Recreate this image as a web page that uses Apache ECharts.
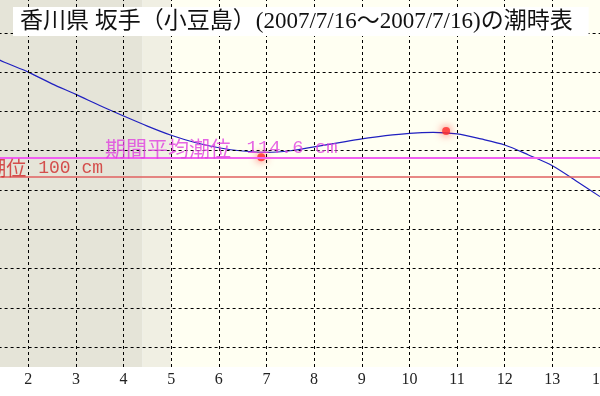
<!DOCTYPE html>
<html><head><meta charset="utf-8">
<script src="https://cdn.jsdelivr.net/npm/echarts@6/dist/echarts.min.js"></script>
<style>html,body{margin:0;padding:0;background:#fff}#c{width:600px;height:396px}</style>
</head><body><div id="c"></div>
<script>
// ---- data ----
const titleText = '香川県 坂手（小豆島）(2007/7/16～2007/7/16)の潮時表';
const hourTicks = [1,2,3,4,5,6,7,8,9,10,11,12,13,14];
const hours  = [1,1.5,2,2.5,3,3.5,4,4.5,5,5.5,6,6.5,7,7.5,8,8.5,9,9.5,10,10.5,11,11.5,12,12.5,13,13.5,14];
const levels = [196,187.5,180,171,163,154.5,146.5,138.8,131.8,126.3,122.3,119.8,118.8,120,123,126,129,131.5,133.3,134,132.8,129,124.4,116.8,108.6,97,85];
const extremeHours  = [6.89, 10.77];
const extremeLevels = [115.0, 135.1];
const meanLevel = 114.6;
const baseLevel = 100;
const meanName = '期間平均潮位', meanValueText = '114.6 cm';
const baseName = '基準潮位', baseValueText = '100 cm';
const gridLevels = [-30,0,30,60,90,120,150,180,210];
const nightEnd = 4.40;
const sunrise = 5.0;
const hourMin = 1, hourMax = 14;
const levelMin = -45, levelMax = 235;
const meanLabelHour = 3.61, baseLabelHour = 3.57;

const SERIF = '"Liberation Serif", "Noto Sans CJK JP", serif';
const MONO = '"Liberation Mono", monospace';
const CJK = '"Noto Sans CJK JP", sans-serif';
const DASH = [3, 3];
const chart = echarts.init(document.getElementById('c'), null, {renderer: 'canvas'});
const option = {
  animation: false,
  backgroundColor: '#ffffff',
  title: {
    text: titleText, left: 13, top: 7, backgroundColor: '#ffffff',
    padding: [3, 16, 3, 7], z: 20,
    textStyle: {fontFamily: SERIF, fontSize: 23, fontWeight: 'normal', color: '#111'}
  },
  grid: {left: -19.4, right: 0, top: 0, bottom: 29, containLabel: false, outerBoundsMode: 'none'},
  xAxis: {
    type: 'value', min: hourMin, max: hourMax, interval: 1,
    axisLine: {lineStyle: {color: '#777', width: 2}},
    axisTick: {inside: true, length: 3, lineStyle: {color: '#555'}},
    axisLabel: {margin: 5, fontFamily: SERIF, fontSize: 16, color: '#222'},
    splitLine: {show: false}
  },
  yAxis: {
    type: 'value', min: levelMin, max: levelMax,
    axisLine: {show: false}, axisTick: {show: false}, axisLabel: {show: false}, splitLine: {show: false}
  },
  series: [
    { name: 'bands', type: 'line', data: [], z: 0, silent: true,
      markArea: { silent: true, data: [
        [{xAxis: hourMin, itemStyle: {color: '#e5e4d8'}}, {xAxis: nightEnd}],
        [{xAxis: nightEnd, itemStyle: {color: '#f0efe3'}}, {xAxis: sunrise}],
        [{xAxis: sunrise, itemStyle: {color: '#fffff2'}}, {xAxis: hourMax}]
      ]}
    },
    { name: 'grid', type: 'line', data: [], z: 1, silent: true,
      markLine: { silent: true, symbol: 'none', label: {show: false},
        lineStyle: {color: '#000', type: DASH, width: 1},
        data: gridLevels.map(v => ({yAxis: v})).concat(hourTicks.map(h => ({xAxis: h}))) }
    },
    { name: 'refs', type: 'line', data: [], z: 2, silent: true,
      markLine: { silent: true, symbol: 'none', label: {show: false},
        data: [
          {yAxis: meanLevel, lineStyle: {color: '#f060f0', type: 'solid', width: 2}},
          {yAxis: baseLevel, lineStyle: {color: '#e06060', type: 'solid', width: 1.5}}
        ] }
    },
    { name: '潮位', type: 'line', z: 3, smooth: 0.3, symbol: 'none',
      lineStyle: {color: '#2020c0', width: 1.2},
      data: hours.map((h, i) => [h, levels[i]]) },
    { name: '満干', type: 'scatter', z: 4, symbolSize: 8,
      itemStyle: {color: '#ff2a2a', shadowBlur: 8, shadowColor: 'rgba(255,0,0,0.9)'},
      data: extremeHours.map((h, i) => [h, extremeLevels[i]]) },
    { name: 'labels', type: 'scatter', z: 5, symbolSize: 0, silent: true,
      data: [
        {value: [meanLabelHour, meanLevel], label: {show: true, position: 'right', distance: 0, offset: [0, -10],
          formatter: '{a|' + meanName + '}{s| }{b|' + meanValueText + '}',
          rich: {a: {color: '#e040e0', fontSize: 21, fontFamily: CJK},
                 s: {fontSize: 26, fontFamily: MONO},
                 b: {color: '#e040e0', fontSize: 19, fontFamily: MONO}}}},
        {value: [baseLabelHour, baseLevel], label: {show: true, position: 'left', distance: 0, offset: [0, -9],
          formatter: '{a|' + baseName + '}{s| }{b|' + baseValueText + '}',
          rich: {a: {color: '#d02828', fontSize: 20, fontFamily: CJK},
                 s: {fontSize: 20, fontFamily: MONO},
                 b: {color: '#d02828', fontSize: 18, fontFamily: MONO}}}}
      ] }
  ]
};
chart.setOption(option);
</script></body></html>
